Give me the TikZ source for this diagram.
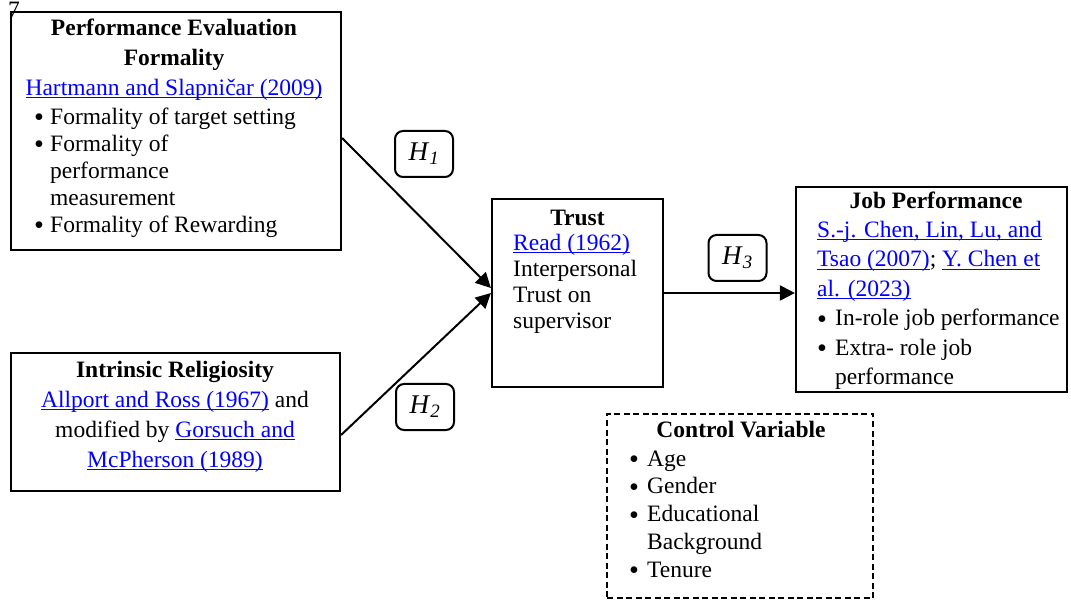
\documentclass[tikz,border=0pt]{standalone}
\usepackage{fontspec}
\setmainfont{Liberation Serif}
\usetikzlibrary{arrows.meta,calc}
\definecolor{lnk}{RGB}{0,0,255}
\newcommand\lk[1]{{\color{lnk}\setbox0\hbox{#1}\rlap{\rule[-3pt]{\wd0}{1.1pt}}\box0}}
\newcommand\bl[1][16pt]{\makebox[#1][l]{\smash{\raisebox{-2.6pt}{\scalebox{1.2}{\textbullet}}}}}
\newcommand\fs{\rule{0pt}{20pt}}
\begin{document}
\begin{tikzpicture}[x=1pt,y=-1pt,
  bx/.style={draw,line width=2.2pt,inner sep=0pt},
  hb/.style={draw,line width=2pt,rounded corners=8pt,minimum width=58pt,minimum height=46pt,inner sep=0pt,font=\fontsize{27}{30}\selectfont},
  txt/.style={inner sep=0pt,font=\fontsize{23.5}{27}\selectfont},
  arr/.style={line width=2pt,-{Triangle[length=15pt,width=15pt]}}]
\useasboundingbox (0,0) rectangle (1071,601);

% boxes
\node[bx,minimum width=330pt,minimum height=238pt] (pef) at (176,131) {};
\node[bx,minimum width=329pt,minimum height=138pt] (ir) at (175.5,422) {};
\node[bx,minimum width=171pt,minimum height=188pt] (trust) at (577.5,293) {};
\node[bx,minimum width=271pt,minimum height=205pt] (jp) at (931.5,289.5) {};
\node[bx,line width=2pt,dash pattern=on 6pt off 3.5pt,minimum width=266pt,minimum height=184pt] (cv) at (740,506) {};

% page number
\node[txt,anchor=base west] (pg) at (8,17.5) {7};

% performance evaluation formality
\node[txt,align=center,anchor=north,font=\fontsize{23.5}{30}\selectfont] (peft) at (174,15)
  {\fs\textbf{Performance Evaluation}\\\textbf{Formality}\\\lk{Hartmann and Slapničar (2009)}};
\node[txt,align=left,anchor=north west] (pefl) at (34,104)
  {\fs\bl Formality of target setting\\\bl Formality of\\\hspace*{16pt}performance\\\hspace*{16pt}measurement\\\bl Formality of Rewarding};

% intrinsic religiosity
\node[txt,align=center,anchor=north,font=\fontsize{23.5}{30}\selectfont] (irt) at (175,357)
  {\fs\textbf{Intrinsic Religiosity}\\\lk{Allport and Ross (1967)} and\\modified by \lk{Gorsuch and}\\\lk{McPherson (1989)}};

% trust
\node[txt,anchor=north] (trt) at (577.5,205) {\fs\textbf{Trust}};
\node[txt,align=left,anchor=north west,font=\fontsize{23.5}{26}\selectfont] (trl) at (513,230)
  {\fs\lk{Read (1962)}\\Interpersonal\\Trust on\\supervisor};

% job performance
\node[txt,anchor=north] (jpt) at (936,188) {\fs\textbf{Job Performance}};
\node[txt,align=left,anchor=north west,font=\fontsize{23.5}{29.5}\selectfont] (jpl) at (817,217)
  {\fs\lk{S.-j. Chen, Lin, Lu, and}\\\lk{Tsao (2007)}; \lk{Y. Chen et}\\\lk{al. (2023)}\\\bl[18pt]In-role job performance\\\bl[18pt]Extra- role job\\\hspace*{18pt}performance};

% control variable
\node[txt,anchor=north] (cvt) at (741,417) {\fs\textbf{Control Variable}};
\node[txt,align=left,anchor=north west,font=\fontsize{23.5}{27.7}\selectfont] (cvl) at (629,446)
  {\fs\bl[18pt]Age\\\bl[18pt]Gender\\\bl[18pt]Educational\\\hspace*{18pt}Background\\\bl[18pt]Tenure};

% hypothesis labels
\node[hb] (h1) at (424,154) {\textit{H}\textsubscript{\textit{1}}};
\node[hb] (h2) at (425,407) {\textit{H}\textsubscript{\textit{2}}};
\node[hb] (h3) at (737.5,258) {\textit{H}\textsubscript{\textit{3}}};

% connectors
\draw[arr] ($(pef.east)+(0,7)$) -- ($(trust.west)+(0,-5)$);
\draw[arr] ($(ir.east)+(0,13)$) -- (trust.west);
\draw[arr] (trust.east) -- (trust.east -| jp.west);
\end{tikzpicture}
\end{document}
